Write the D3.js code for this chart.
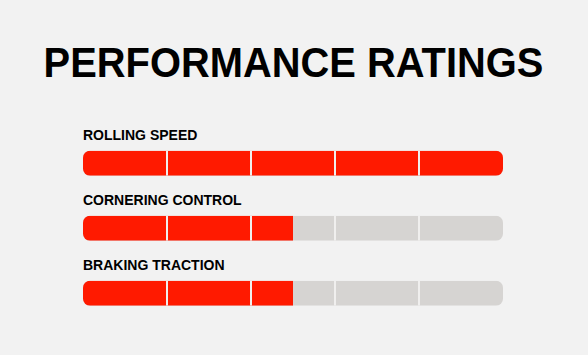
<!DOCTYPE html>
<html>
<head>
<meta charset="utf-8">
<script src="https://cdn.jsdelivr.net/npm/d3@7"></script>
<style>
  html, body { margin: 0; padding: 0; background: #f2f2f2; }
  svg { display: block; }
</style>
</head>
<body>
<script>
const title = "PERFORMANCE RATINGS";
const categories = ["ROLLING SPEED", "CORNERING CONTROL", "BRAKING TRACTION"];
const ratings = [5, 2.5, 2.5];
const ratingMax = 5;
const segmentBreaks = [1, 2, 3, 4];

const W = 588, H = 355;
const svg = d3.select("body").append("svg").attr("width", W).attr("height", H);
svg.append("rect").attr("width", W).attr("height", H).attr("fill", "#f2f2f2");

const x = d3.scaleLinear().domain([0, ratingMax]).range([83, 503]);
const y = d3.scaleBand().domain(categories).range([150.7, 150.7 + 65 * categories.length]);
const barH = 25;
const rx = 7;

// title
const t = svg.append("text")
  .attr("x", 0).attr("y", 0)
  .attr("text-anchor", "middle")
  .attr("font-family", "Liberation Sans, Arial, Helvetica, sans-serif")
  .attr("font-weight", "bold")
  .attr("font-size", 40)
  .attr("fill", "#000")
  .text(title);
const targetW = 500;
const bb = t.node().getBBox();
const fs = 40 * targetW / bb.width;
const capTarget = 30.7;
const sy = capTarget / (fs * 0.716);
t.attr("font-size", fs)
 .attr("transform", `translate(${W / 2 - 0.5},76.7) scale(1,${sy})`);

const defs = svg.append("defs");
const rows = svg.selectAll("g.row")
  .data(categories.map((c, i) => ({ c, v: ratings[i], i })))
  .join("g").attr("class", "row");

rows.each(function(d) {
  const g = d3.select(this);
  const top = y(d.c);
  defs.append("clipPath").attr("id", "clip" + d.i)
    .append("rect")
    .attr("x", x(0)).attr("y", top)
    .attr("width", x(ratingMax) - x(0)).attr("height", barH)
    .attr("rx", rx).attr("ry", rx);

  g.append("text")
    .attr("x", x(0)).attr("y", top - 10.5)
    .attr("font-family", "Liberation Sans, Arial, Helvetica, sans-serif")
    .attr("font-weight", "bold")
    .attr("font-size", 14)
    .attr("fill", "#000")
    .text(d.c);

  const bar = g.append("g").attr("clip-path", "url(#clip" + d.i + ")");
  bar.append("rect")
    .attr("x", x(0)).attr("y", top)
    .attr("width", x(ratingMax) - x(0)).attr("height", barH)
    .attr("fill", "#d6d4d2");
  bar.append("rect")
    .attr("x", x(0)).attr("y", top)
    .attr("width", x(d.v) - x(0)).attr("height", barH)
    .attr("fill", "#ff1a00");
  bar.selectAll("line")
    .data(segmentBreaks)
    .join("line")
    .attr("x1", v => x(v)).attr("x2", v => x(v))
    .attr("y1", top).attr("y2", top + barH)
    .attr("stroke", "#f0efee")
    .attr("stroke-width", 2);
});
</script>
</body>
</html>
